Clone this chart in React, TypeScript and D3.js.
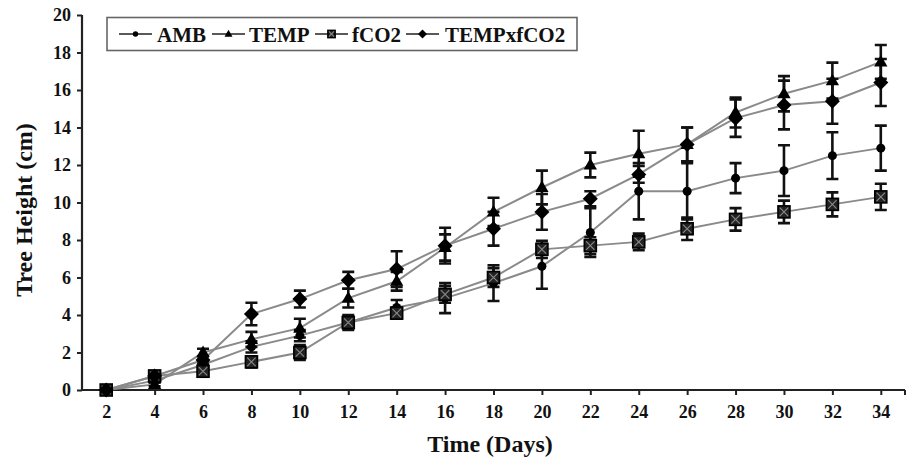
import React, {useRef, useEffect} from "react"
import * as d3 from "d3"

const days = [2, 4, 6, 8, 10, 12, 14, 16, 18, 20, 22, 24, 26, 28, 30, 32, 34]
const yTicks = [0, 2, 4, 6, 8, 10, 12, 14, 16, 18, 20]

const ambMean = [0, 0.5, 1.35, 2.3, 2.9, 3.6, 4.4, 4.9, 5.7, 6.6, 8.4, 10.6, 10.6, 11.3, 11.7, 12.5, 12.9]
const ambErr = [0, 0.1, 0.2, 0.3, 0.3, 0.3, 0.4, 0.8, 0.95, 1.2, 1.3, 1.5, 1.5, 0.8, 1.35, 1.25, 1.2]
const tempMean = [0, 0.3, 2.0, 2.7, 3.3, 4.9, 5.8, 7.6, 9.5, 10.8, 12.0, 12.6, 13.1, 14.8, 15.8, 16.5, 17.5]
const tempErr = [0, 0.1, 0.2, 0.4, 0.5, 0.5, 0.5, 0.7, 0.75, 0.9, 0.66, 1.23, 0.9, 0.8, 0.94, 0.96, 0.9]
const co2Mean = [0, 0.75, 1.0, 1.5, 2.0, 3.6, 4.1, 5.1, 6.0, 7.5, 7.7, 7.9, 8.6, 9.1, 9.5, 9.9, 10.3]
const co2Err = [0, 0.1, 0.15, 0.3, 0.4, 0.4, 0.3, 0.45, 0.5, 0.46, 0.45, 0.44, 0.6, 0.6, 0.6, 0.64, 0.7]
const txfMean = [0, 0.75, 1.6, 4.05, 4.85, 5.85, 6.45, 7.7, 8.6, 9.5, 10.2, 11.5, 13.1, 14.5, 15.2, 15.4, 16.4]
const txfErr = [0, 0.1, 0.2, 0.6, 0.45, 0.45, 0.95, 0.95, 0.9, 0.95, 0.4, 0.45, 0.9, 1.0, 1.3, 1.2, 1.25]

const seriesNames = ["AMB", "TEMP", "fCO2", "TEMPxfCO2"]

const App = () => {
    let element = useRef(null)

    useEffect(() => {
        const W = 909, H = 461
        const font = "'Liberation Serif', 'Times New Roman', serif"

        const series = [
            {name: seriesNames[0], mean: ambMean, err: ambErr, shape: "circle"},
            {name: seriesNames[1], mean: tempMean, err: tempErr, shape: "triangle"},
            {name: seriesNames[2], mean: co2Mean, err: co2Err, shape: "square"},
            {name: seriesNames[3], mean: txfMean, err: txfErr, shape: "diamond"},
        ]

        let svg = d3.select(element.current)
            .append("svg")
                .attr("width", W)
                .attr("height", H)
                .style("position", "absolute")
                .style("left", 0)
                .style("top", 0)
                .style("background", "#fff")

        let x = d3.scalePoint()
            .domain(days.map(String))
            .range([82, 905])
            .padding(0.5)

        let y = d3.scaleLinear()
            .domain([0, 20])
            .range([390, 15])

        // y axis
        svg.append("g")
            .attr("transform", "translate(82,0)")
            .call(d3.axisLeft(y).tickValues(yTicks).tickSize(5).tickPadding(6))
            .call(g => g.select(".domain").attr("stroke", "#222").attr("stroke-width", 2.2).attr("d", "M0,15V390"))
            .call(g => g.selectAll(".tick line").attr("stroke", "#222").attr("stroke-width", 2))
            .call(g => g.selectAll(".tick text")
                .attr("font-family", font).attr("font-size", 18).attr("font-weight", "bold").attr("fill", "#111"))

        // x axis
        svg.append("g")
            .attr("transform", "translate(0,390)")
            .call(d3.axisBottom(x).tickSize(5).tickPadding(10))
            .call(g => g.select(".domain").attr("stroke", "#222").attr("stroke-width", 2.2).attr("d", "M82,0H905"))
            .call(g => g.selectAll(".tick line").attr("stroke", "#222").attr("stroke-width", 2))
            .call(g => g.selectAll(".tick text")
                .attr("font-family", font).attr("font-size", 18).attr("font-weight", "bold").attr("fill", "#111"))
        svg.append("line")
            .attr("x1", 905).attr("x2", 905).attr("y1", 390).attr("y2", 395)
            .attr("stroke", "#222").attr("stroke-width", 2)

        // axis titles
        svg.append("text")
            .attr("x", 490).attr("y", 452)
            .attr("text-anchor", "middle")
            .attr("font-family", font).attr("font-size", 24).attr("font-weight", "bold").attr("fill", "#111")
            .text("Time (Days)")
        svg.append("text")
            .attr("transform", "translate(32,210) rotate(-90)")
            .attr("text-anchor", "middle")
            .attr("font-family", font).attr("font-size", 24).attr("font-weight", "bold").attr("fill", "#111")
            .text("Tree Height (cm)")

        const drawMarker = (g, shape, cx, cy, s) => {
            if (shape === "circle") {
                g.append("circle").attr("cx", cx).attr("cy", cy).attr("r", 4.5 * s).attr("fill", "#000")
            } else if (shape === "triangle") {
                const r = 7 * s
                g.append("path")
                    .attr("d", `M${cx},${cy - r}L${cx + r * 0.95},${cy + r * 0.65}L${cx - r * 0.95},${cy + r * 0.65}Z`)
                    .attr("fill", "#000")
            } else if (shape === "square") {
                const r = 6 * s
                g.append("rect").attr("x", cx - r).attr("y", cy - r).attr("width", 2 * r).attr("height", 2 * r)
                    .attr("fill", "#222").attr("stroke", "#000").attr("stroke-width", 1.6)
                g.append("path")
                    .attr("d", `M${cx - r * 0.7},${cy - r * 0.7}L${cx + r * 0.7},${cy + r * 0.7}M${cx - r * 0.7},${cy + r * 0.7}L${cx + r * 0.7},${cy - r * 0.7}`)
                    .attr("stroke", "#8a8a8a").attr("stroke-width", 1.1)
            } else {
                const r = 7.5 * s
                g.append("path")
                    .attr("d", `M${cx},${cy - r}L${cx + r},${cy}L${cx},${cy + r}L${cx - r},${cy}Z`)
                    .attr("fill", "#000")
            }
        }

        const line = d3.line()
            .x((d, i) => x(String(days[i])))
            .y(d => y(d))

        // lines
        series.forEach(s => {
            svg.append("path")
                .datum(s.mean)
                .attr("d", line)
                .attr("fill", "none")
                .attr("stroke", "#8a8a8a")
                .attr("stroke-width", 2)
        })

        // error bars
        series.forEach(s => {
            let g = svg.append("g")
            s.mean.forEach((m, i) => {
                if (s.err[i] <= 0) return
                const cx = x(String(days[i]))
                const y1 = y(m + s.err[i]), y2 = y(m - s.err[i])
                g.append("path")
                    .attr("d", `M${cx},${y1}V${y2}M${cx - 6},${y1}H${cx + 6}M${cx - 6},${y2}H${cx + 6}`)
                    .attr("stroke", "#111")
                    .attr("stroke-width", 2.6)
                    .attr("fill", "none")
            })
        })

        // markers
        series.forEach(s => {
            let g = svg.append("g")
            s.mean.forEach((m, i) => drawMarker(g, s.shape, x(String(days[i])), y(m), 1))
        })

        // legend
        let lg = svg.append("g")
        lg.append("rect")
            .attr("x", 107).attr("y", 17.5).attr("width", 470).attr("height", 33)
            .attr("fill", "#fff").attr("stroke", "#666").attr("stroke-width", 1.6)
        const items = [
            {x1: 119, x2: 152, tx: 157},
            {x1: 212, x2: 245, tx: 249},
            {x1: 315, x2: 348, tx: 352},
            {x1: 406, x2: 439, tx: 445},
        ]
        series.forEach((s, i) => {
            const it = items[i]
            lg.append("line").attr("x1", it.x1).attr("x2", it.x2).attr("y1", 34).attr("y2", 34)
                .attr("stroke", "#222").attr("stroke-width", 1.5)
            drawMarker(lg, s.shape, (it.x1 + it.x2) / 2, 34, 0.6)
            lg.append("text")
                .attr("x", it.tx).attr("y", 41.5)
                .attr("font-family", font).attr("font-size", 21).attr("font-weight", "bold").attr("fill", "#111")
                .text(s.name)
        })

        return () => {
            if(element.current) {
                for(let child of element.current.children) {
                    child.remove()
                }
            }
        }
    })

    return (
        <div style={{width: 909, height: 461}} ref={element}></div>
    )
}

export default App
